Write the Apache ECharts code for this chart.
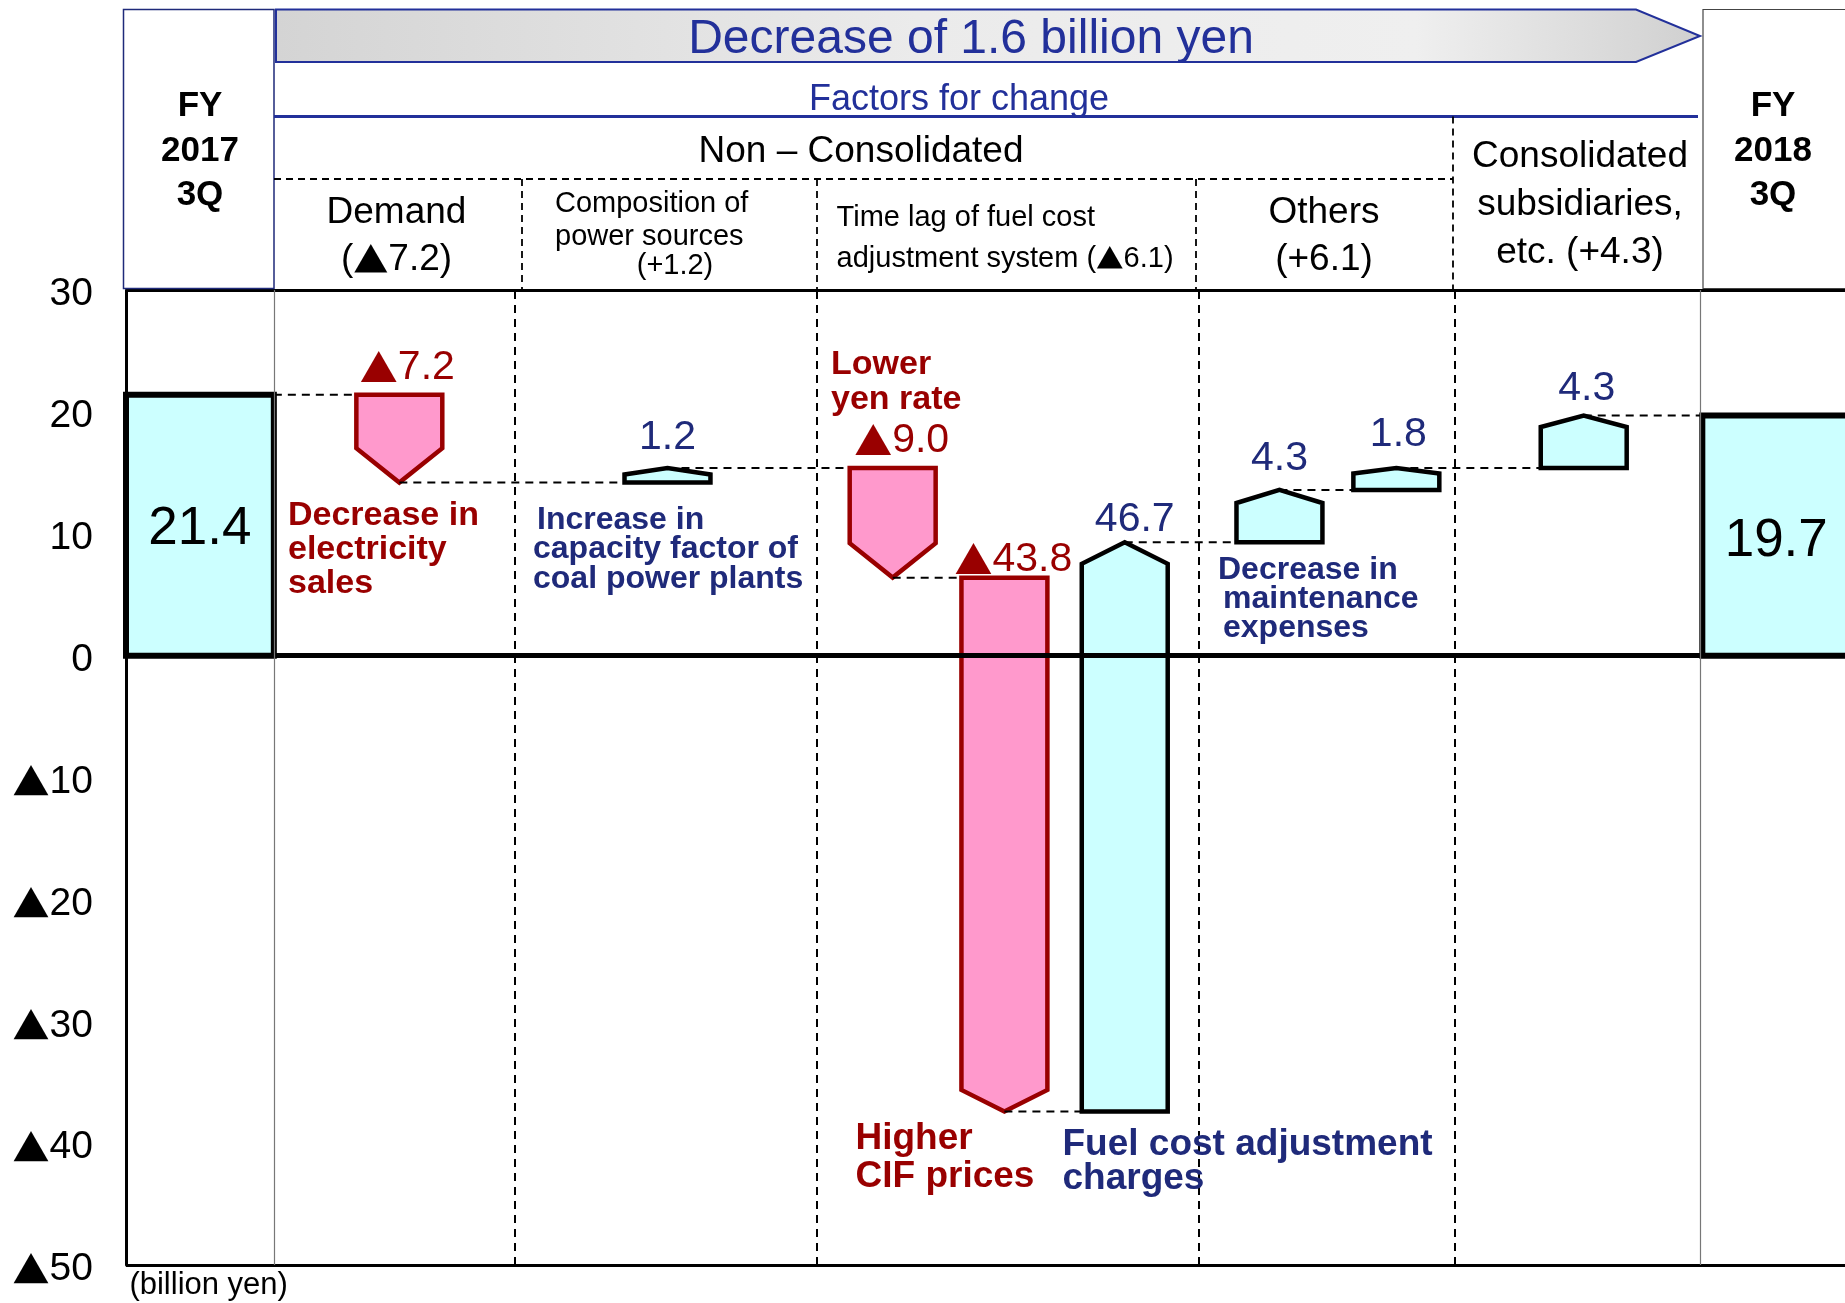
<!DOCTYPE html>
<html><head><meta charset="utf-8">
<script src="https://cdn.jsdelivr.net/npm/echarts@6/dist/echarts.min.js"></script>
<style>html,body{margin:0;padding:0;background:#fff}#c{width:1845px;height:1303px}</style>
</head><body><div id="c"></div>
<script>
// ---------- data ----------
const categories = ['FY2017 3Q','Decrease in electricity sales','Increase in capacity factor of coal power plants','Lower yen rate','Higher CIF prices','Fuel cost adjustment charges','Decrease in maintenance expenses','Others','Consolidated subsidiaries, etc.','FY2018 3Q'];
const startTotal = 21.4;
const changes = [-7.2, 1.2, -9.0, -43.8, 46.7, 4.3, 1.8, 4.3];
const endTotal = 19.7;
const yTicks = [30, 20, 10, 0, -10, -20, -30, -40, -50];
const yTickLabels = ['30', '20', '10', '0', '▲10', '▲20', '▲30', '▲40', '▲50'];

// ---------- layout / style (not data) ----------
const slotCenter = [4.3, 15.9, 31.5, 44.6, 51.1, 58.1, 67.1, 73.9, 84.8, 96.0];
const slotWidth  = [8.6, 5.0, 5.0, 5.0, 5.0, 5.0, 5.0, 5.0, 5.0, 8.6];
const tipRatio   = [0, 0.4, 0.45, 0.4, 0.25, 0.25, 0.25, 0.25, 0.22, 0];
const labelDx    = [0, 8, 0, 9, 9, 10, 0, 2, 3, 0];
const labelDy    = [4, -27, -30, -27, -18, -23, -31, -33, -27, 6];
const dividers = [8.6, 22.6, 40.2, 62.4, 77.3, 91.6];
const FONT = '"Liberation Sans", Arial, sans-serif';
const CJK = '"Noto Sans CJK JP", "Noto Sans CJK SC", sans-serif';
const RED = '#990000', NAVY = '#1f2a7a', HNAVY = '#22309a';

function rich(s) { return s.replace(/▲/g, '{t|▲}'); }
function richStyle(size, color) { return {t: {fontFamily: CJK, fontSize: size, fill: color, color: color}}; }

// ---------- build waterfall ----------
const levels = [[0, startTotal]];
let cur = startTotal;
changes.forEach(c => { const n = +(cur + c).toFixed(2); levels.push([cur, n]); cur = n; });
levels.push([0, endTotal]);
const kinds = ['total'].concat(changes.map(() => 'delta'), ['total']);
const labels = [startTotal.toFixed(1)].concat(changes.map(c => c < 0 ? '▲' + (-c).toFixed(1) : c.toFixed(1)), [endTotal.toFixed(1)]);
const seriesData = levels.map((l, i) => [slotCenter[i], slotWidth[i], l[0], l[1], i]);

function renderItem(params, api) {
  const i = api.value(4);
  const xc = api.value(0), w = api.value(1), a = api.value(2), b = api.value(3);
  const left = api.coord([xc - w / 2, 0])[0], right = api.coord([xc + w / 2, 0])[0];
  const cx = (left + right) / 2;
  const ya = api.coord([xc, a])[1], yb = api.coord([xc, b])[1];
  const children = [];
  if (i > 0) {
    const p = seriesData[i - 1];
    const px = kinds[i - 1] === 'total' ? api.coord([p[0] + p[1] / 2, 0])[0] : api.coord([p[0], 0])[0];
    const py = api.coord([0, levels[i - 1][1]])[1];
    children.push({type: 'line', shape: {x1: px, y1: py, x2: left, y2: py},
      style: {stroke: '#000', lineWidth: 2, lineDash: [8, 6]}});
  }
  if (kinds[i] === 'total') {
    children.push({type: 'rect', shape: {x: left, y: yb, width: right - left, height: ya - yb},
      style: {fill: '#ccffff', stroke: '#000', lineWidth: 6}});
    children.push({type: 'text', style: {text: labels[i], x: cx + labelDx[i], y: (ya + yb) / 2 + labelDy[i], fill: '#000',
      fontSize: 53, fontFamily: FONT, align: 'center', verticalAlign: 'middle'}});
  } else {
    const wpx = right - left, hpx = Math.abs(yb - ya);
    const tip = tipRatio[i] * Math.min(wpx, hpx);
    const down = b < a;
    const pts = down
      ? [[left, ya], [right, ya], [right, yb - tip], [cx, yb], [left, yb - tip]]
      : [[left, ya], [right, ya], [right, yb + tip], [cx, yb], [left, yb + tip]];
    children.push({type: 'polygon', shape: {points: pts},
      style: {fill: down ? '#ff99cc' : '#ccffff', stroke: down ? RED : '#000', lineWidth: 4.5, lineJoin: 'miter'}});
    const top = Math.min(ya, yb);
    const col = down ? RED : NAVY;
    children.push({type: 'text', style: {text: rich(labels[i]), rich: richStyle(38, col), x: cx + labelDx[i], y: top + labelDy[i], fill: col,
      fontSize: 41, fontFamily: FONT, align: 'center', verticalAlign: 'middle'}});
  }
  return {type: 'group', children};
}

// ---------- header & notes (graphic) ----------
const g = [];
function T(text, x, y, size, opts) {
  const o = opts || {};
  const fill = o.fill || '#000';
  g.push({type: 'text', x, y, z: 10, silent: true, style: Object.assign({text: rich(text), rich: richStyle(size * 0.95, fill), fontSize: size, fontFamily: FONT,
    fill: '#000', align: 'center', verticalAlign: 'middle'}, o)});
}
function L(x1, y1, x2, y2, opts) {
  g.push({type: 'line', z: 10, silent: true, shape: {x1, y1, x2, y2}, style: Object.assign({stroke: '#000', lineWidth: 2}, opts || {})});
}
const dash = {lineDash: [7, 5], lineWidth: 1.8};
g.push({type: 'polygon', z: 9, silent: true, shape: {points: [[276, 9.5], [1636, 9.5], [1700, 36], [1636, 62], [276, 62]]},
  style: {fill: new echarts.graphic.LinearGradient(0, 0, 1, 0, [
    {offset: 0, color: '#d4d4d4'}, {offset: 0.45, color: '#ebebeb'}, {offset: 0.8, color: '#efefef'}, {offset: 1, color: '#d0d0d0'}]),
    stroke: HNAVY, lineWidth: 2}});
g.push({type: 'rect', z: 9, silent: true, shape: {x: 123.5, y: 9.5, width: 150.5, height: 279}, style: {fill: 'none', stroke: NAVY, lineWidth: 1.5}});
g.push({type: 'rect', z: 9, silent: true, shape: {x: 1703, y: 9.5, width: 200, height: 279}, style: {fill: 'none', stroke: '#444', lineWidth: 1.2}});
L(274, 116.5, 1698, 116.5, {stroke: HNAVY, lineWidth: 3});
L(274, 179, 1453, 179, dash);
L(522, 179, 522, 289, dash);
L(817, 179, 817, 289, dash);
L(1196, 179, 1196, 289, dash);
L(1453, 116.5, 1453, 289, dash);

T('Decrease of 1.6 billion yen', 971, 40, 48, {fill: HNAVY});
T('Factors for change', 959, 100, 36, {fill: HNAVY});
T('Non – Consolidated', 861, 151.5, 37);
['FY', '2017', '3Q'].forEach((s, k) => T(s, 200, 106.5 + k * 44.5, 35, {fontWeight: 'bold'}));
['FY', '2018', '3Q'].forEach((s, k) => T(s, 1773, 106.5 + k * 44.5, 35, {fontWeight: 'bold'}));
T('Demand', 396.5, 212.5, 37);
T('(▲7.2)', 396.5, 259.5, 37);
T('Composition of', 555, 204, 29, {align: 'left'});
T('power sources', 555, 236.5, 29, {align: 'left'});
T('(+1.2)', 675, 266, 29);
T('Time lag of fuel cost', 836.6, 218, 29, {align: 'left'});
T('adjustment system (▲6.1)', 836.6, 259, 29, {align: 'left'});
T('Others', 1324, 212.5, 37);
T('(+6.1)', 1324, 259.5, 37);
T('Consolidated', 1580, 157, 37);
T('subsidiaries,', 1580, 205, 37);
T('etc. (+4.3)', 1580, 252.5, 37);

const B = {fontWeight: 'bold', align: 'left'};
[['Decrease in', 516], ['electricity', 550], ['sales', 584]].forEach(r => T(r[0], 288, r[1], 34, Object.assign({fill: RED}, B)));
[['Increase in', 537, 520], ['capacity factor of', 533, 549.5], ['coal power plants', 533, 579]].forEach(r => T(r[0], r[1], r[2], 32, Object.assign({fill: NAVY}, B)));
[['Lower', 365], ['yen rate', 400]].forEach(r => T(r[0], 831, r[1], 34, Object.assign({fill: RED}, B)));
[['Higher', 1138.5], ['CIF prices', 1177]].forEach(r => T(r[0], 855.5, r[1], 37, Object.assign({fill: RED}, B)));
[['Fuel cost adjustment', 1144.5], ['charges', 1178.5]].forEach(r => T(r[0], 1062.5, r[1], 37, Object.assign({fill: NAVY}, B)));
[['Decrease in', 1218, 570], ['maintenance', 1223, 599.5], ['expenses', 1223, 628.5]].forEach(r => T(r[0], r[1], r[2], 32, Object.assign({fill: NAVY}, B)));
T('(billion yen)', 129.4, 1285, 31, {align: 'left'});

// ---------- chart ----------
const chart = echarts.init(document.getElementById('c'));
chart.setOption({
  animation: false,
  backgroundColor: '#fff',
  grid: {left: 126, right: 0, top: 290, bottom: 38, containLabel: false},
  xAxis: {type: 'value', min: 0, max: 100, show: false},
  yAxis: {type: 'value', min: -50, max: 30, interval: 10,
    axisLine: {show: true, lineStyle: {color: '#000', width: 3}},
    axisTick: {show: false}, splitLine: {show: false},
    axisLabel: {color: '#000', fontSize: 39, fontFamily: FONT, margin: 33, padding: [9, 0, 0, 0],
      rich: {t: {fontFamily: CJK, fontSize: 37, color: '#000'}},
      formatter: v => { const k = yTicks.indexOf(v); return k >= 0 ? rich(yTickLabels[k]) : ''; }}},
  graphic: g,
  series: [
    {type: 'line', data: [], z: 1, silent: true,
      markLine: {silent: true, symbol: 'none', label: {show: false}, animation: false,
        data: [
          {yAxis: 30, lineStyle: {color: '#000', width: 3, type: 'solid'}},
          {yAxis: 0, lineStyle: {color: '#000', width: 5, type: 'solid'}},
          {yAxis: -50, lineStyle: {color: '#000', width: 3, type: 'solid'}}
        ].concat(dividers.map((d, k) => ({xAxis: d,
          lineStyle: (k === 0 || k === dividers.length - 1) ? {color: '#777', width: 1.2, type: 'solid'} : {color: '#000', width: 2, type: [8, 6]}})))}},
    {type: 'custom', z: 3, renderItem, data: seriesData, clip: false}
  ]
});
</script>
</body></html>
